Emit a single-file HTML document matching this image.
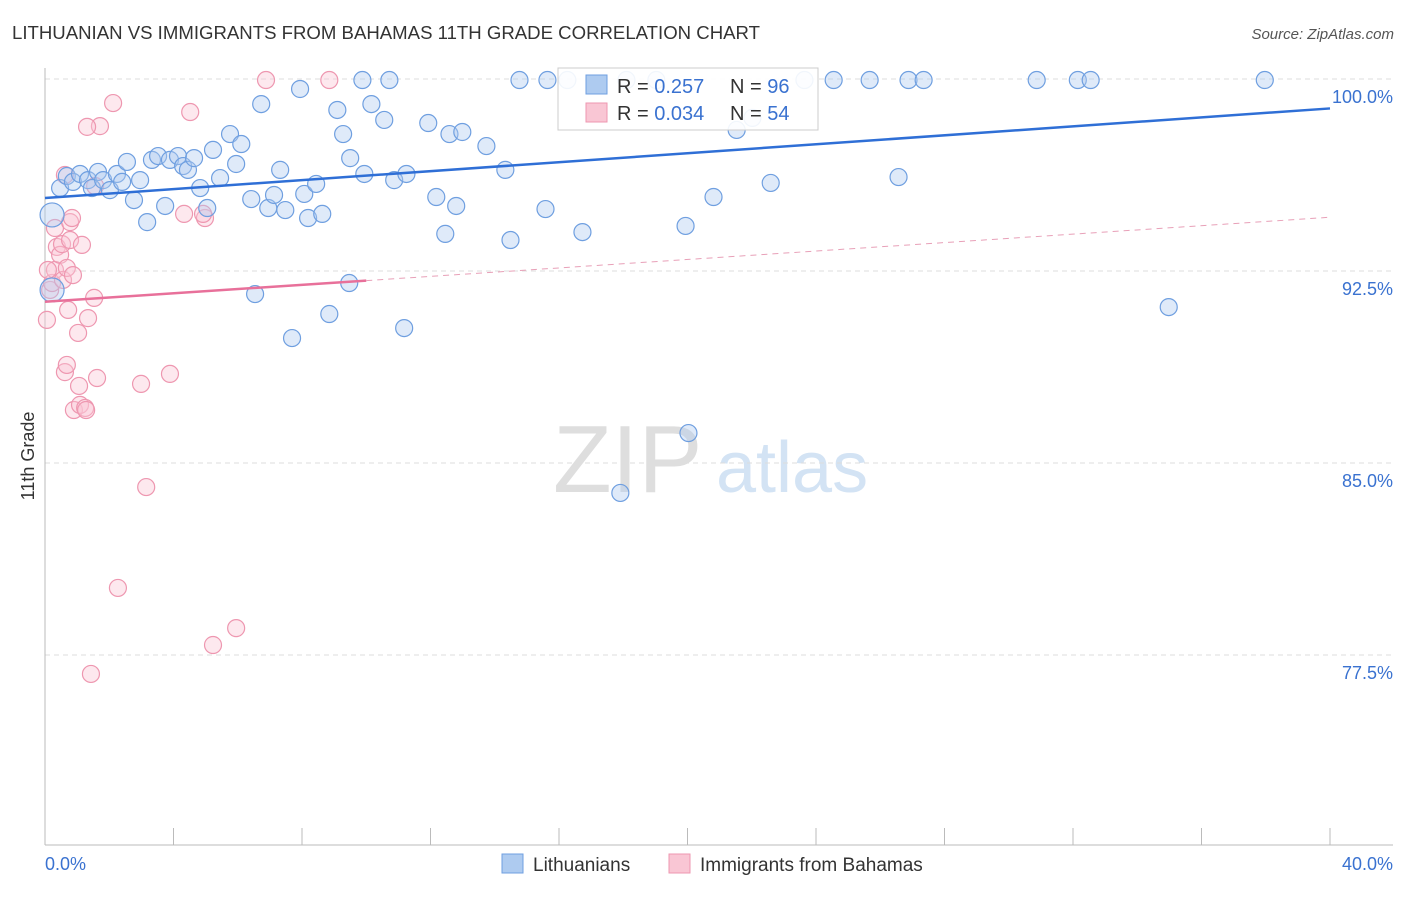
<!DOCTYPE html>
<html><head><meta charset="utf-8">
<style>
body{margin:0;background:#fff;font-family:"Liberation Sans",sans-serif;}
svg text{font-family:"Liberation Sans",sans-serif;}
</style></head>
<body>
<svg id="chart" width="1406" height="892" xmlns="http://www.w3.org/2000/svg">
<text x="12" y="39" font-size="18.6" fill="#333">LITHUANIAN VS IMMIGRANTS FROM BAHAMAS 11TH GRADE CORRELATION CHART</text>
<text x="1394" y="39" font-size="15" fill="#555" text-anchor="end" font-style="italic">Source: ZipAtlas.com</text>
<text x="34" y="456" font-size="18" fill="#333" text-anchor="middle" transform="rotate(-90 34 456)">11th Grade</text>
<g>
<text x="553" y="492" font-size="96" fill="#dedede" font-family="Liberation Serif,serif">ZIP</text>
<text x="716" y="492" font-size="72" fill="#d3e3f4">atlas</text>
</g>
<g id="grid"></g><g id="axes"></g><g id="pts"></g><g id="lines"></g>
<g>
<rect x="558" y="68" width="260" height="62" fill="#fff" fill-opacity="0.9" stroke="#ccc"/>
<rect x="586" y="75" width="21" height="19" fill="#aecbf0" stroke="#6f9fe0"/>
<text x="617" y="93" font-size="20" fill="#333">R = <tspan fill="#3a72d0">0.257</tspan></text>
<text x="730" y="93" font-size="20" fill="#333">N = <tspan fill="#3a72d0">96</tspan></text>
<rect x="586" y="103" width="21" height="19" fill="#f9c6d4" stroke="#ee97b0"/>
<text x="617" y="120" font-size="20" fill="#333">R = <tspan fill="#3a72d0">0.034</tspan></text>
<text x="730" y="120" font-size="20" fill="#333">N = <tspan fill="#3a72d0">54</tspan></text>
</g>
<g>
<rect x="502" y="854" width="21" height="19" fill="#aecbf0" stroke="#6f9fe0"/>
<text x="533" y="871" font-size="19" fill="#333">Lithuanians</text>
<rect x="669" y="854" width="21" height="19" fill="#f9c6d4" stroke="#ee97b0"/>
<text x="700" y="871" font-size="19" fill="#333">Immigrants from Bahamas</text>
</g>
</svg>
<script>
const xTicks=[0,4,8,12,16,20,24,28,32,36,40];
const yTicks=[100,92.5,85,77.5];
const yTickLabels=["100.0%","92.5%","85.0%","77.5%"];
const blueX=[0.47,0.68,0.87,1.09,1.34,1.46,1.65,1.81,2.02,2.24,2.40,2.55,2.77,2.96,3.18,3.33,3.52,3.74,3.89,4.14,4.30,4.45,4.64,4.83,5.05,5.23,5.45,5.76,5.95,6.11,6.42,6.54,6.73,6.95,7.13,7.32,7.48,7.69,7.94,8.07,8.19,8.44,8.63,8.85,9.10,9.28,9.50,9.88,9.94,10.16,10.56,10.72,10.87,11.18,11.25,11.93,12.18,12.46,12.59,12.80,12.99,13.74,14.33,14.49,14.77,15.58,15.64,16.26,16.73,17.91,18.10,19.03,19.94,20.03,20.81,21.53,22.02,22.59,23.64,24.55,25.67,26.57,26.88,27.35,30.87,32.15,32.55,34.98,37.97,9.47,0.22,0.22];
const blueY=[95.74,96.21,95.98,96.29,96.05,95.74,96.37,96.05,95.66,96.29,95.98,96.76,95.27,96.05,94.41,96.84,96.99,95.04,96.84,96.99,96.60,96.45,96.91,95.74,94.96,97.23,96.13,97.85,96.68,97.46,95.31,91.60,99.02,94.96,95.47,96.45,94.88,89.88,99.61,95.51,94.57,95.90,94.73,90.82,98.79,97.85,96.91,99.96,96.29,99.02,98.40,99.96,96.05,90.27,96.29,98.28,95.39,93.95,97.85,95.04,97.93,97.38,96.45,93.71,99.96,94.92,99.96,99.96,94.02,83.83,99.96,99.96,94.26,86.17,95.39,98.01,98.48,95.94,99.96,99.96,99.96,96.17,99.96,99.96,99.96,99.96,99.96,91.09,99.96,92.03,94.69,91.76];
const pinkX=[0.06,0.16,0.22,0.31,0.31,0.37,0.47,0.53,0.56,0.62,0.68,0.72,0.78,0.78,0.84,0.87,0.90,1.03,1.09,1.15,1.25,1.28,1.34,1.43,1.53,1.62,1.71,2.27,2.99,3.15,3.89,4.33,4.52,4.98,5.23,5.95,6.88,8.85,1.31,2.12,0.62,0.68,1.06,1.56,4.92,0.09];
const pinkY=[90.59,91.76,92.03,94.18,92.54,93.44,93.13,93.55,92.15,96.25,92.62,90.98,93.71,94.41,94.57,92.34,87.07,90.08,87.27,93.52,87.15,87.07,90.66,76.76,91.45,88.32,98.16,80.12,88.09,84.06,88.48,94.73,98.71,94.57,77.89,78.55,99.96,99.96,98.13,99.06,88.55,88.83,88.01,95.82,94.73,92.54];
const blueTrend=[95.35,98.85];
const pinkTrend=[91.3,94.6];
const X=v=>45+v*32.125, Y=v=>79+(100-v)*25.6;
const NS="http://www.w3.org/2000/svg";
function mk(parent,tag,attrs){const e=document.createElementNS(NS,tag);for(const k in attrs)e.setAttribute(k,attrs[k]);document.getElementById(parent).appendChild(e);return e;}
yTicks.forEach((t,i)=>{
 const l=mk('grid','line',{x1:45,x2:1393,y1:Y(t),y2:Y(t),stroke:'#ddd','stroke-dasharray':'5,4'});
 
 
 const tx=mk('grid','text',{x:1393,y:Y(t)+24,'font-size':18,fill:'#3a72d0','text-anchor':'end'});
 tx.textContent=yTickLabels[i];
 
 
});
let a=mk('axes','line',{x1:45,x2:45,y1:68,y2:845,stroke:'#bbb'});


a=mk('axes','line',{x1:45,x2:1393,y1:845,y2:845,stroke:'#bbb'});


xTicks.forEach(t=>{
 const l=mk('axes','line',{x1:X(t),x2:X(t),y1:828,y2:845,stroke:'#bbb'});
 
 
});
let tl=mk('axes','text',{x:45,y:870,'font-size':18,fill:'#3a72d0'});tl.textContent=xTicks[0].toFixed(1)+'%';


tl=mk('axes','text',{x:1393,y:870,'font-size':18,fill:'#3a72d0','text-anchor':'end'});tl.textContent=xTicks[xTicks.length-1].toFixed(1)+'%';


pinkX.forEach((v,i)=>{
 const c=mk('pts','circle',{cx:X(v),cy:Y(pinkY[i]),r:8.5,fill:'#f9c6d4','fill-opacity':0.4,stroke:'#ee97b0','stroke-width':1.2});
 
 
});
blueX.forEach((v,i)=>{
 const big=i>=blueX.length-2;
 const c=mk('pts','circle',{cx:X(v),cy:Y(blueY[i]),r:big?12:8.5,fill:'#aecbf0','fill-opacity':0.4,stroke:'#6f9fe0','stroke-width':1.2});
 
 
});
let ln=mk('lines','line',{x1:X(0),x2:X(40),y1:Y(blueTrend[0]),y2:Y(blueTrend[1]),stroke:'#2f6fd6','stroke-width':2.5});


const pAt=x=>pinkTrend[0]+(pinkTrend[1]-pinkTrend[0])*x/40;
ln=mk('lines','line',{x1:X(0),x2:X(10),y1:Y(pAt(0)),y2:Y(pAt(10)),stroke:'#e8709a','stroke-width':2.5});


ln=mk('lines','line',{x1:X(10),x2:X(40),y1:Y(pAt(10)),y2:Y(pAt(40)),stroke:'#e8a0b8','stroke-width':1,'stroke-dasharray':'6,5'});


</script>
</body></html>
